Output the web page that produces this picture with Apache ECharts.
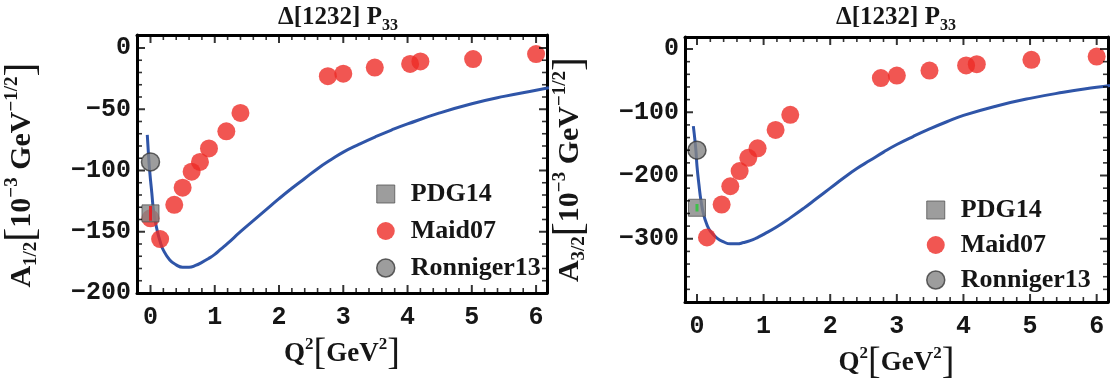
<!DOCTYPE html>
<html><head><meta charset="utf-8">
<script src="https://cdn.jsdelivr.net/npm/echarts@6/dist/echarts.min.js"></script>
<style>html,body{margin:0;padding:0;background:#fff}#c{width:1115px;height:387px}</style>
</head><body><div id="c"></div>
<script>
// ---------- data ----------
const xTicks = [0, 1, 2, 3, 4, 5, 6];
const yTicksA12 = [0, -50, -100, -150, -200];
const yTicksA32 = [0, -100, -200, -300];
const yTickMarksA32 = [0, -100, -200, -300, -400];

// Maid07 (red)
const maidQ2 = [0.15, 0.37, 0.5, 0.64, 0.77, 0.91, 1.18, 1.40, 2.76, 3.0, 3.49, 4.04, 4.2, 5.02, 6.0];
const maidA12 = [-156, -128, -114, -101, -93, -82, -68, -53, -23, -21, -16, -13, -11, -9, -5];
const maidA32 = [-298, -246, -217, -193, -172, -157, -128, -104, -46, -42, -34, -26, -24, -17, -12];
const maidA12AtZero = [[0, -139]];

// PDG14 (gray square) and Ronniger13 (gray circle)
const pdgA12 = [[0, -135]];
const pdgA32 = [[0, -251]];
const pdgErrA12 = [[0, -141], [0, -129]];
const pdgErrA32 = [[0, -257], [0, -245]];
const ronA12 = [[0, -93]];
const ronA32 = [[0, -160]];

// theory curve
const curveQ2A12 = [-0.05, -0.03, -0.01, 0.02, 0.05, 0.1, 0.15, 0.2, 0.3, 0.4, 0.5, 0.6, 0.7, 0.8, 0.9, 1.0, 1.1, 1.2, 1.4, 1.6, 1.8, 2.0, 2.2, 2.4, 2.6, 2.8, 3.0, 3.25, 3.5, 3.75, 4.0, 4.5, 5.0, 5.5, 6.0, 6.2];
const curveA12 = [-71, -88, -102, -118, -134, -148, -158, -165, -173, -177, -179, -179, -177.5, -175, -172, -168.5, -164, -159.5, -150, -141, -132, -123, -114.5, -106.5, -98.5, -91.5, -85, -78.5, -72.5, -67, -62, -53, -45.5, -39.5, -34.5, -32.5];
const curveQ2A32 = [-0.055, -0.03, -0.015, 0, 0.03, 0.06, 0.1, 0.15, 0.2, 0.3, 0.4, 0.5, 0.6, 0.7, 0.8, 0.9, 1.0, 1.2, 1.4, 1.6, 1.8, 2.0, 2.2, 2.4, 2.6, 2.8, 3.0, 3.25, 3.5, 3.75, 4.0, 4.5, 5.0, 5.5, 6.0, 6.2];
const curveA32 = [-122, -145, -162, -185, -215, -240, -262, -278, -288, -299, -305, -308, -308, -306, -303, -298.5, -293, -281, -267, -252, -236, -220, -204, -189, -176, -163, -151, -138, -126, -115, -105, -90, -78, -68.5, -60.5, -57.5];

// ---------- helpers ----------
const zip = (a, b) => a.map((v, i) => [v, b[i]]);
function minorList(lo, hi, step, majors) {
  const out = [];
  for (let v = lo; v <= hi + 1e-9; v += step) {
    const r = Math.round(v * 1000) / 1000;
    if (!majors.some(m => Math.abs(m - r) < 1e-6)) out.push(r);
  }
  return out;
}
const SERIF = '"Liberation Serif","Times New Roman",serif';
const MONO = '"Liberation Mono","DejaVu Sans Mono",monospace';
const RED = '#ee2c27', BLUE = '#2f55a8', GRAY = '#858585', EDGE = '#3a3a3a', INK = '#161616';
const DOT = 18, SQ = 17;

const panels = [
  { grid: { left: 129, top: 35, width: 418, height: 258 }, xmin: -0.21, xmax: 6.17, ymin: -200, ymax: 10.6,
    yLabels: yTicksA12, yMarks: yTicksA12, yMinor: minorList(-200, 10, 10, yTicksA12),
    sub: '1/2', shift: 22, maid: zip(maidQ2, maidA12), maid0: maidA12AtZero, pdg: pdgA12, pdgErr: pdgErrA12, errColor: '#e0262b',
    ron: ronA12, curve: zip(curveQ2A12, curveA12), cx: 338,
    legend: { left: 371, top: 176, itemGap: 11 } },
  { grid: { left: 685, top: 37, width: 423, height: 265 }, xmin: -0.18, xmax: 6.17, ymin: -400, ymax: 19,
    yLabels: yTicksA32, yMarks: yTickMarksA32, yMinor: minorList(-400, 19, 20, yTickMarksA32),
    sub: '3/2', shift: 0, maid: zip(maidQ2, maidA32), maid0: [], pdg: pdgA32, pdgErr: pdgErrA32, errColor: '#3fbf4a',
    ron: ronA32, curve: zip(curveQ2A32, curveA32), cx: 896,
    legend: { left: 921, top: 192, itemGap: 9 } }
];

const xMinor = minorList(-0.2, 6.2, 0.2, xTicks);
const grids = [], xAxes = [], yAxes = [], series = [], graphics = [], legends = [];
const tickLabelStyle = { fontFamily: MONO, fontWeight: 'bold', fontSize: 25, color: INK,
  formatter: v => String(v).replace('-', '\u2212') };
const nameRich = {
  b: { fontFamily: SERIF, fontWeight: 'bold', fontSize: 30, color: INK, lineHeight: 38 },
  s: { fontFamily: SERIF, fontWeight: 'bold', fontSize: 19, color: INK, verticalAlign: 'bottom', lineHeight: 36 },
  u: { fontFamily: SERIF, fontWeight: 'bold', fontSize: 19, color: INK, verticalAlign: 'top', lineHeight: 38 },
  k: { fontFamily: SERIF, fontWeight: 'normal', fontSize: 42, color: INK, lineHeight: 38 }
};
const xNameRich = {
  b: { fontFamily: SERIF, fontWeight: 'bold', fontSize: 27, color: INK, lineHeight: 36 },
  u: { fontFamily: SERIF, fontWeight: 'bold', fontSize: 17, color: INK, verticalAlign: 'top', lineHeight: 36 },
  k: { fontFamily: SERIF, fontWeight: 'normal', fontSize: 38, color: INK, lineHeight: 36 }
};
const frameLine = { show: true, onZero: false, lineStyle: { color: '#000', width: 3 } };

panels.forEach((p, i) => {
  grids.push(p.grid);
  const xb = xAxes.length, yb = yAxes.length;
  const cx = { type: 'value', gridIndex: i, min: p.xmin, max: p.xmax, splitLine: { show: false }, axisTick: { show: false } };
  xAxes.push(Object.assign({}, cx, {
    position: 'bottom', axisLine: frameLine,
    axisLabel: Object.assign({ show: true, margin: 12, customValues: xTicks }, tickLabelStyle),
    name: '{b|Q}{u|2}{k|[}{b|GeV}{u|2}{k|]}', nameLocation: 'middle', nameGap: 42,
    nameTextStyle: { rich: xNameRich }
  }));
  xAxes.push(Object.assign({}, cx, { position: 'top', axisLine: frameLine, axisLabel: { show: false } }));

  const cy = { type: 'value', gridIndex: i, min: p.ymin, max: p.ymax, splitLine: { show: false }, axisTick: { show: false } };
  const yRich = Object.assign({}, nameRich, { g: { width: p.shift, lineHeight: 38 } });
  yAxes.push(Object.assign({}, cy, {
    position: 'left', axisLine: frameLine,
    axisLabel: Object.assign({ show: true, margin: 6, customValues: p.yLabels }, tickLabelStyle),
    name: '{b|A}{s|' + p.sub + '}{k|[}{b|10}{u|−3}{b| GeV}{u|−1/2}{k|]}' + (p.shift ? '{g|}' : ''),
    nameLocation: 'middle', nameGap: 96, nameRotate: 90,
    nameTextStyle: { rich: yRich }
  }));
  yAxes.push(Object.assign({}, cy, { position: 'right', axisLine: frameLine, axisLabel: { show: false } }));

  const ax = { xAxisIndex: xb, yAxisIndex: yb };

  // inside frame tick marks on all four sides, placed through the axes' scales
  const ticks = [];
  const MAJ = 8, MIN = 5;
  xTicks.forEach(v => {
    ticks.push({ value: [v, p.ymin], symbolSize: [2, MAJ], symbolOffset: [0, -MAJ / 2] });
    ticks.push({ value: [v, p.ymax], symbolSize: [2, MAJ], symbolOffset: [0, MAJ / 2] });
  });
  xMinor.forEach(v => {
    if (v < p.xmin || v > p.xmax) return;
    ticks.push({ value: [v, p.ymin], symbolSize: [1.6, MIN], symbolOffset: [0, -MIN / 2] });
    ticks.push({ value: [v, p.ymax], symbolSize: [1.6, MIN], symbolOffset: [0, MIN / 2] });
  });
  p.yMarks.forEach(v => {
    ticks.push({ value: [p.xmin, v], symbolSize: [MAJ, 2], symbolOffset: [MAJ / 2, 0] });
    ticks.push({ value: [p.xmax, v], symbolSize: [MAJ, 2], symbolOffset: [-MAJ / 2, 0] });
  });
  p.yMinor.forEach(v => {
    if (v < p.ymin || v > p.ymax) return;
    ticks.push({ value: [p.xmin, v], symbolSize: [MIN, 1.6], symbolOffset: [MIN / 2, 0] });
    ticks.push({ value: [p.xmax, v], symbolSize: [MIN, 1.6], symbolOffset: [-MIN / 2, 0] });
  });
  series.push(Object.assign({ type: 'scatter', name: 'ticks', data: ticks, symbol: 'rect', silent: true, clip: false,
    itemStyle: { color: '#000' }, z: 10, emphasis: { disabled: true } }, ax));

  series.push(Object.assign({ type: 'line', name: 'theory', data: p.curve, smooth: 0.5, showSymbol: false, silent: true,
    lineStyle: { color: BLUE, width: 3 }, z: 2 }, ax));
  if (p.maid0.length) series.push(Object.assign({ type: 'scatter', name: 'Maid07', data: p.maid0, symbol: 'circle', symbolSize: DOT,
    itemStyle: { color: RED }, z: 3 }, ax));
  series.push(Object.assign({ type: 'scatter', name: 'PDG14', data: p.pdg, symbol: 'rect', symbolSize: SQ,
    itemStyle: { color: GRAY, borderColor: '#555', borderWidth: 1 }, z: 4 }, ax));
  series.push(Object.assign({ type: 'line', name: 'pdgErr', data: p.pdgErr, showSymbol: false, silent: true,
    lineStyle: { color: p.errColor, width: 3 }, z: 5 }, ax));
  series.push(Object.assign({ type: 'scatter', name: 'Maid07', data: p.maid, symbol: 'circle', symbolSize: DOT,
    itemStyle: { color: RED }, z: 6 }, ax));
  series.push(Object.assign({ type: 'scatter', name: 'Ronniger13', data: p.ron, symbol: 'circle', symbolSize: DOT,
    itemStyle: { color: GRAY, borderColor: EDGE, borderWidth: 1.5 }, z: 7 }, ax));

  graphics.push({
    type: 'text', x: p.cx, y: 18,
    style: { text: '{b|Δ[1232] P}{s|33}', align: 'center', verticalAlign: 'middle',
      rich: { b: { fontFamily: SERIF, fontWeight: 'bold', fontSize: 25, fill: INK, lineHeight: 28 },
              s: { fontFamily: SERIF, fontWeight: 'bold', fontSize: 16, fill: INK, verticalAlign: 'bottom', lineHeight: 32 } } }
  });

  legends.push({
    left: p.legend.left, top: p.legend.top, orient: 'vertical', itemWidth: 18, itemHeight: 18, itemGap: p.legend.itemGap,
    textStyle: { fontFamily: SERIF, fontWeight: 'bold', fontSize: 26, color: INK, padding: [0, 0, 0, 11] },
    data: [
      { name: 'PDG14', icon: 'rect', itemStyle: { color: GRAY, borderColor: '#555', borderWidth: 1 } },
      { name: 'Maid07', icon: 'circle', itemStyle: { color: RED } },
      { name: 'Ronniger13', icon: 'circle', itemStyle: { color: GRAY, borderColor: EDGE, borderWidth: 1.5 } }
    ], selectedMode: false
  });
});

const chart = echarts.init(document.getElementById('c'), null, { renderer: 'canvas' });
chart.setOption({
  animation: false,
  backgroundColor: '#fff',
  grid: grids, xAxis: xAxes, yAxis: yAxes, series: series,
  legend: legends, graphic: graphics
});
</script></body></html>
